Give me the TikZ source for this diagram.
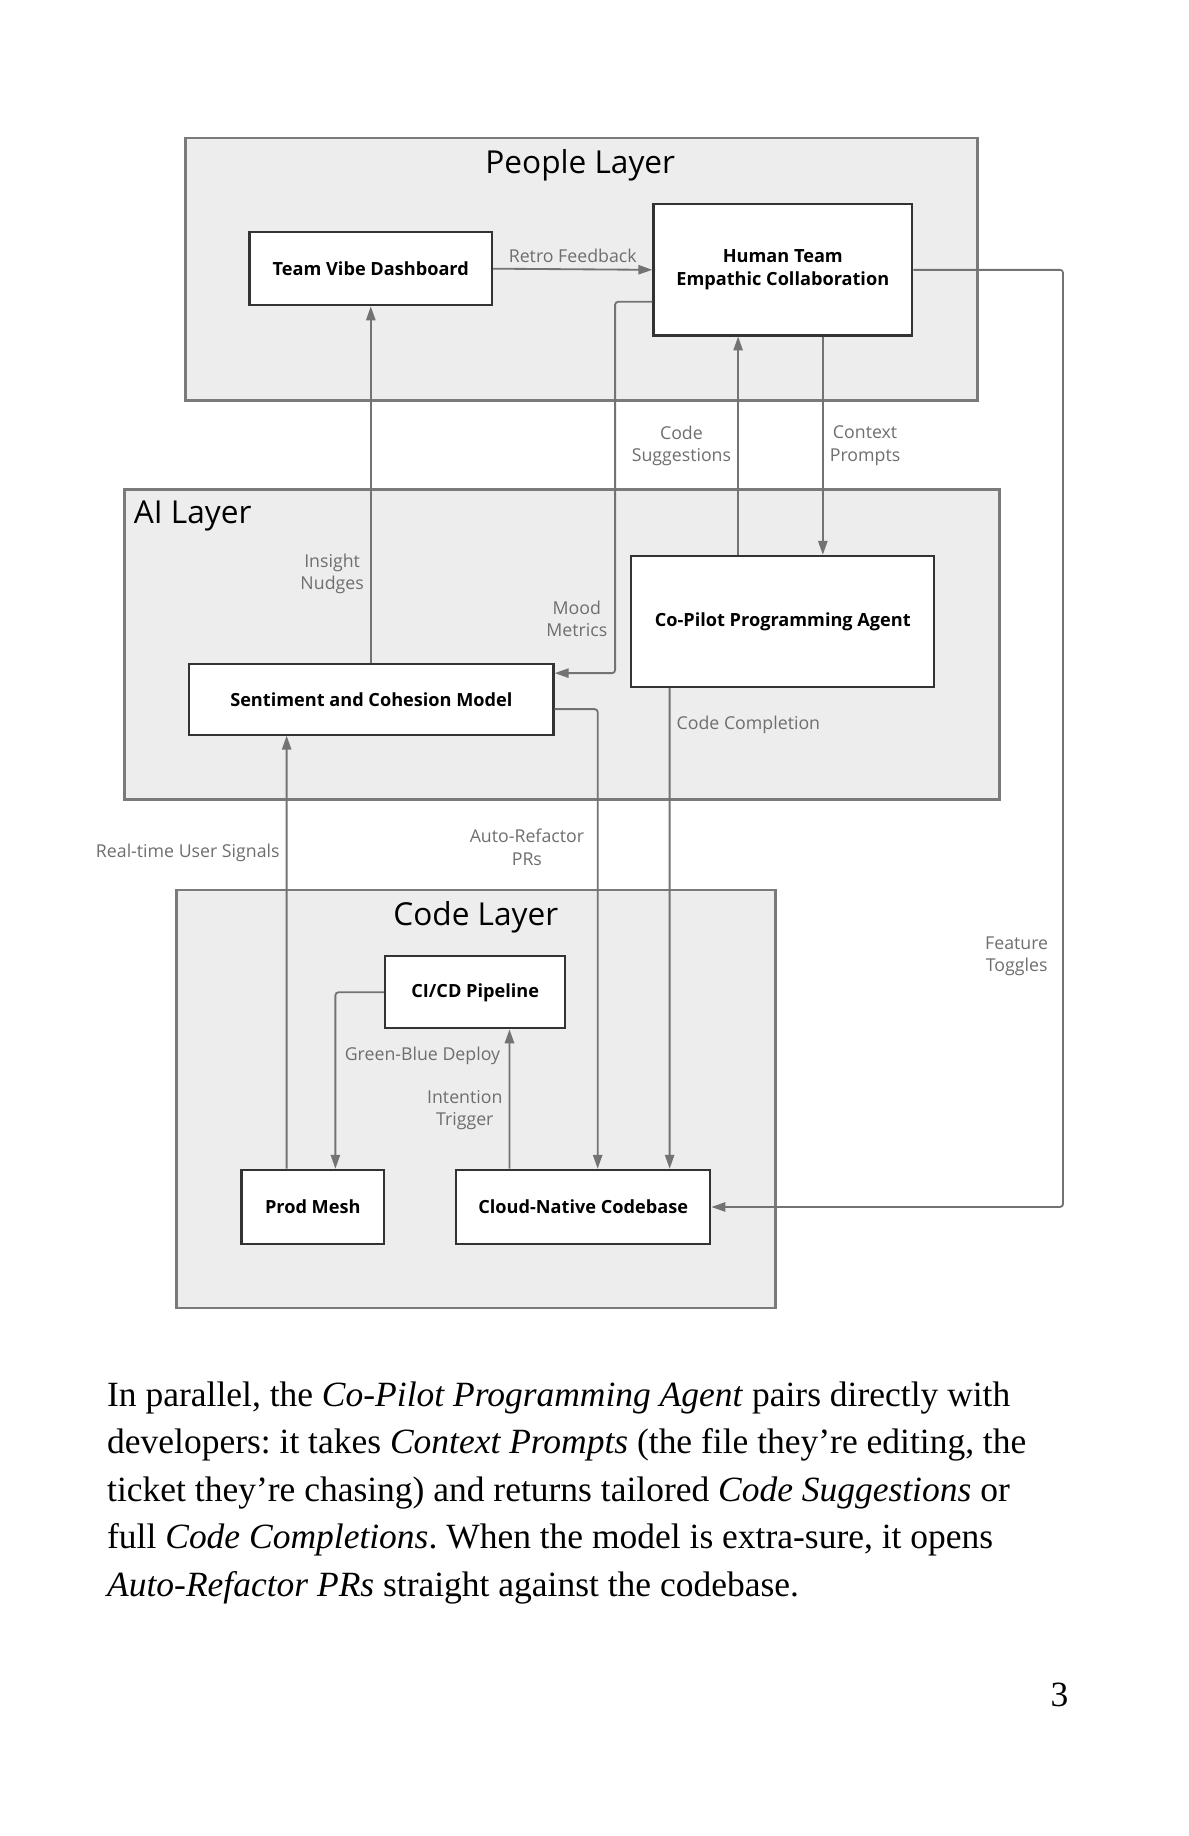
\documentclass[tikz,border=0pt]{standalone}
\usepackage{fontspec}
\setmainfont{Liberation Serif}
\newfontfamily\sketchfont{Open Sans}
\usetikzlibrary{arrows.meta}
\definecolor{layerfill}{HTML}{EDEDED}
\definecolor{layerline}{HTML}{7A7A7A}
\definecolor{edgeline}{HTML}{737373}
\definecolor{edgetext}{HTML}{6E6E6E}
\frenchspacing
\begin{document}
\begin{tikzpicture}[x=0.2mm,y=-0.2mm,
    layer/.style={draw=layerline,fill=layerfill,line width=1.3pt},
    box/.style={draw=black!80,fill=white,line width=1.1pt,inner sep=0pt,align=center,
      font=\sketchfont\bfseries\fontsize{8.9}{11.5}\selectfont},
    flow/.style={draw=edgeline,line width=0.9pt,rounded corners=1.5pt,
      -{Triangle[length=2.4mm,width=1.6mm]}},
    tag/.style={font=\sketchfont\fontsize{8.7}{11}\selectfont,text=edgetext,align=center,inner sep=1pt},
    title/.style={font=\sketchfont\fontsize{15.5}{18}\selectfont,inner sep=0pt}]
  \useasboundingbox (0,0) rectangle (1024,1582);
  \draw[layer] (160,119) rectangle (842,345);
  \draw[layer] (107,422) rectangle (861,689);
  \draw[layer] (152,767) rectangle (668,1127);
  \path
    (500,142) node[title] (peopletitle) {People Layer}
    (115,445) node[title,anchor=west] (aititle) {AI Layer}
    (410,790) node[title] (codetitle) {Code Layer};
  \path
    (319.5,231.5) node[box,minimum width=41.8mm,minimum height=12.6mm] (vibe) {Team Vibe Dashboard}
    (674.5,232.5) node[box,minimum width=44.6mm,minimum height=22.6mm] (team) {Human Team\\Empathic Collaboration}
    (320,602.5) node[box,minimum width=62.8mm,minimum height=12.2mm] (model) {Sentiment and Cohesion Model}
    (674.5,535.5) node[box,minimum width=52.2mm,minimum height=22.6mm] (agent) {Co-Pilot Programming Agent}
    (409.5,855) node[box,minimum width=31mm,minimum height=12.4mm] (cicd) {CI/CD Pipeline}
    (269.5,1040) node[box,minimum width=24.6mm,minimum height=12.8mm] (mesh) {Prod Mesh}
    (502.5,1040) node[box,minimum width=43.8mm,minimum height=12.8mm] (codebase) {Cloud-Native Codebase};
  \coordinate (moodbend) at (530,0);
  \coordinate (togglebend) at (916,0);
  \begin{scope}[flow]
    \draw (vibe.east) -- node[tag,above=2pt] {Retro Feedback} (team.west);
    \draw (model.north -| vibe.south) -- node[tag,pos=0.25,left=2pt] {Insight\\Nudges} (vibe.south);
    \draw ([yshift=-5.5mm]team.west) -| ([yshift=4.5mm]model.east -| moodbend) -- ([yshift=4.5mm]model.east);
    \draw ([xshift=-7.7mm]agent.north) -- node[tag,left=2pt] {Code\\Suggestions} ([xshift=-7.7mm]team.south);
    \draw ([xshift=6.9mm]team.south) -- node[tag,right=2pt] {Context\\Prompts} ([xshift=6.9mm]agent.north);
    \draw (team.east) -| (codebase.east -| togglebend) -- (codebase.east);
    \draw ([xshift=-19.5mm]agent.south) -- node[tag,pos=0.077,right=2pt] {Code Completion} ([xshift=14.9mm]codebase.north);
    \draw ([yshift=-1.7mm]model.east) -| ([xshift=2.5mm]codebase.north);
    \draw ([xshift=-4.5mm]mesh.north) -- node[tag,pos=0.73,left=2pt] {Real-time User Signals} ([xshift=-14.6mm]model.south);
    \draw (cicd.west) -| ([xshift=3.9mm]mesh.north);
    \draw ([xshift=-12.7mm]codebase.north) -- node[tag,pos=0.42,left=2pt] {Intention\\Trigger} ([xshift=5.9mm]cicd.south);
  \end{scope}
  \path
    (497,533) node[tag] (moodtag) {Mood\\Metrics}
    (876,824) node[tag] (toggletag) {Feature\\Toggles}
    (454,730) node[tag] (refactortag) {Auto-Refactor\\PRs}
    (364,910) node[tag] (deploytag) {Green-Blue Deploy};
  \node[anchor=north west,inner sep=0pt,align=left,font=\fontsize{17.4}{23.3}\selectfont] (para) at (92,1190)
    {In parallel, the \textit{Co-Pilot Programming Agent} pairs directly with\\
     developers: it takes \textit{Context Prompts} (the file they’re editing, the\\
     ticket they’re chasing) and returns tailored \textit{Code Suggestions} or\\
     full \textit{Code Completions}. When the model is extra-sure, it opens\\
     \textit{Auto-Refactor PRs} straight against the codebase.};
  \node[font=\fontsize{17.4}{23.3}\selectfont,inner sep=0pt] (pagenum) at (913,1460) {3};
\end{tikzpicture}
\end{document}
